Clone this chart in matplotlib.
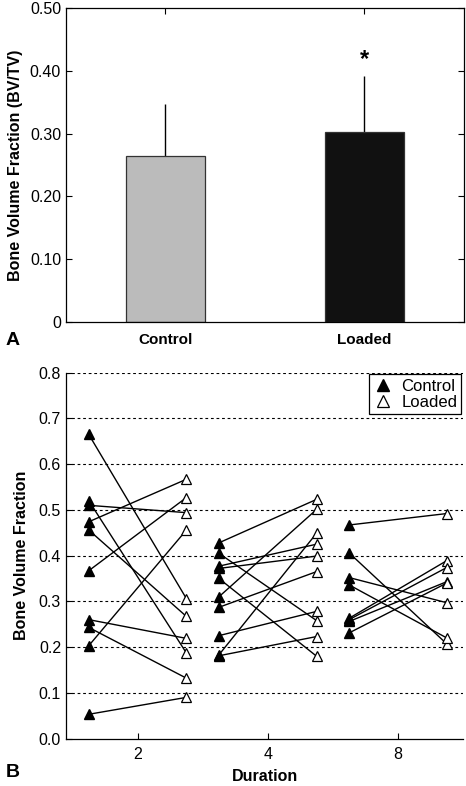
import numpy as np
import matplotlib.pyplot as plt

plt.rcParams['font.family'] = ['Liberation Sans', 'DejaVu Sans']

# %%
# Panel A: mean BV/TV with upward SD bars
groups = ['Control', 'Loaded']
bvtv_mean = [0.264, 0.303]
bvtv_sd = [0.083, 0.089]
bar_colors = ['#bbbbbb', '#111111']
a_ticks = [0, 0.10, 0.20, 0.30, 0.40, 0.50]
a_ticklabels = ['0', '0.10', '0.20', '0.30', '0.40', '0.50']

# Panel B: paired control / loaded values per loading duration (weeks)
durations = ['2', '4', '8']
ctrl_2 = [0.665, 0.520, 0.510, 0.474, 0.456, 0.367, 0.260, 0.243, 0.203, 0.053]
load_2 = [0.306, 0.187, 0.494, 0.567, 0.267, 0.527, 0.219, 0.132, 0.456, 0.090]
ctrl_4 = [0.428, 0.405, 0.377, 0.372, 0.350, 0.310, 0.287, 0.225, 0.183, 0.181]
load_4 = [0.523, 0.258, 0.425, 0.399, 0.180, 0.501, 0.365, 0.278, 0.449, 0.223]
ctrl_8 = [0.467, 0.406, 0.352, 0.336, 0.263, 0.260, 0.256, 0.231]
load_8 = [0.492, 0.207, 0.297, 0.220, 0.389, 0.374, 0.343, 0.340]
b_ticks = [0.0, 0.1, 0.2, 0.3, 0.4, 0.5, 0.6, 0.7, 0.8]

fig = plt.figure(figsize=(4.66, 7.86), dpi=100)

# %%
axA = fig.add_axes([0.1416, 0.5907, 0.854, 0.3987])
x = np.arange(1, len(groups) + 1)
axA.bar(x, bvtv_mean, width=0.4, color=bar_colors, edgecolor='#333333',
        linewidth=0.9, zorder=2)
# only the upper half of the error bar, no caps
axA.errorbar(x, bvtv_mean, yerr=[np.zeros(len(x)), bvtv_sd], fmt='none',
             ecolor='black', elinewidth=1.0, capsize=0, zorder=1)
axA.text(2, 0.400, '*', ha='center', va='bottom', fontsize=17,
         fontweight='bold')
axA.set_xlim(0.5, 2.5)
axA.set_ylim(0, 0.5)
axA.set_xticks(x)
axA.set_xticklabels(groups, fontweight='bold', fontsize=11)
axA.set_yticks(a_ticks)
axA.set_yticklabels(a_ticklabels, fontsize=11.5)
axA.tick_params(direction='in', top=True, right=True, length=4, width=0.8)
axA.tick_params(axis='x', pad=8)
axA.set_ylabel('Bone Volume Fraction (BV/TV)', fontweight='bold',
               fontsize=11.5, labelpad=5)
for s in axA.spines.values():
    s.set_linewidth(0.9)

# %%
axB = fig.add_axes([0.1416, 0.0604, 0.852, 0.4654])
pairs = [(ctrl_2, load_2), (ctrl_4, load_4), (ctrl_8, load_8)]
off = 0.375
for i, (c, l) in enumerate(pairs, start=1):
    for cv, lv in zip(c, l):
        axB.plot([i - off, i + off], [cv, lv], color='black', lw=1.0,
                 zorder=2)
    hc, = axB.plot(np.full(len(c), i - off), c, linestyle='none', marker='^',
                   ms=7.5, mfc='black', mec='black', zorder=3)
    hl, = axB.plot(np.full(len(l), i + off), l, linestyle='none', marker='^',
                   ms=7.5, mfc='white', mec='black', mew=0.9, zorder=3)

for yv in b_ticks[1:]:
    axB.axhline(yv, color='black', lw=0.8, linestyle=(0, (2.5, 2.5)),
                zorder=1)

axB.set_xlim(0.45, 3.5)
axB.set_ylim(0, 0.8)
axB.set_xticks([1, 2, 3])
axB.set_xticklabels(durations, fontsize=11.5)
axB.set_yticks(b_ticks)
axB.set_yticklabels(['%.1f' % v for v in b_ticks], fontsize=11.5)
axB.tick_params(direction='in', length=4, width=0.8)
axB.tick_params(axis='x', pad=6)
axB.spines['top'].set_visible(False)
axB.spines['right'].set_visible(False)
axB.spines['left'].set_linewidth(0.9)
axB.spines['bottom'].set_linewidth(0.9)
axB.set_xlabel('Duration', fontweight='bold', fontsize=11.5, labelpad=5)
axB.set_ylabel('Bone Volume Fraction', fontweight='bold', fontsize=11.5,
               labelpad=7)

leg = axB.legend([hc, hl], ['Control', 'Loaded'], loc='upper right',
                 fontsize=12, handlelength=1.2, handletextpad=0.5,
                 borderpad=0.25, labelspacing=0.1, fancybox=False,
                 framealpha=1, borderaxespad=0.1, markerscale=1.1)
leg.get_frame().set_edgecolor('black')
leg.get_frame().set_linewidth(0.9)

# panel letters
fig.text(0.012, 0.567, 'A', fontsize=14, fontweight='bold', va='center')
fig.text(0.012, 0.017, 'B', fontsize=14, fontweight='bold', va='center')

fig.savefig('out.png', dpi=100)
